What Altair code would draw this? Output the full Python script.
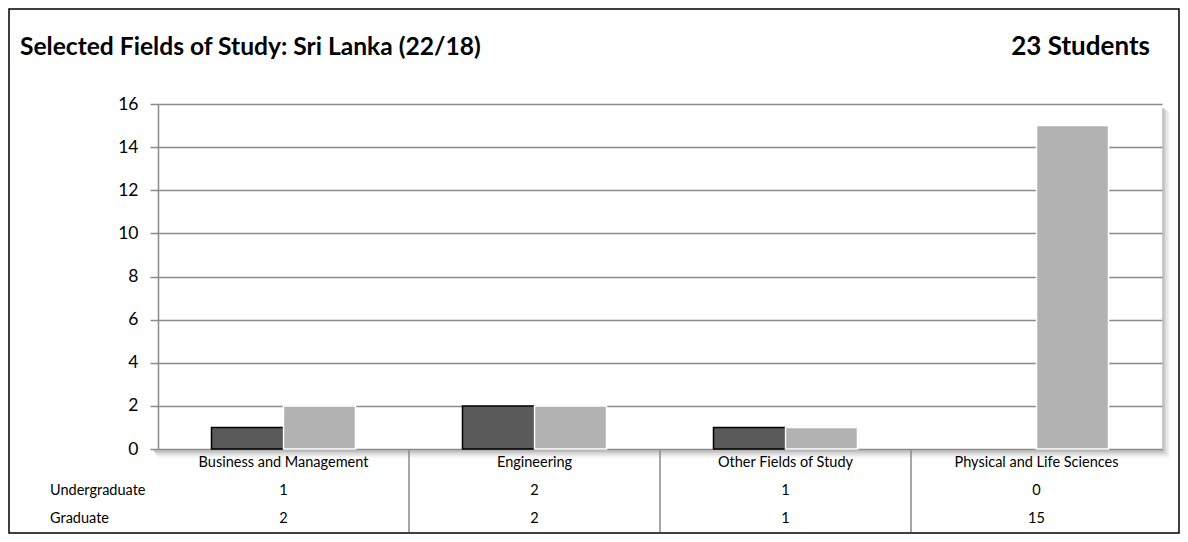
import altair as alt
import pandas as pd

categories = ["Business and Management", "Engineering", "Other Fields of Study", "Physical and Life Sciences"]
series = ["Undergraduate", "Graduate"]
undergraduate = [1, 2, 1, 0]
graduate = [2, 2, 1, 15]
title_text = "Selected Fields of Study: Sri Lanka (22/18)"
total_text = "23 Students"
y_ticks = [0, 2, 4, 6, 8, 10, 12, 14, 16]

FONT = "Lato"
W, H = 1004, 345
PAD = {"left": 150, "top": 96, "right": 18, "bottom": 85}

rows = []
for i, c in enumerate(categories):
    rows.append({"cat": c, "series": "Undergraduate", "value": undergraduate[i]})
    rows.append({"cat": c, "series": "Graduate", "value": graduate[i]})
df = pd.DataFrame(rows)

xscale = alt.Scale(domain=categories, paddingInner=0, paddingOuter=0)
rowscale = alt.Scale(type="point", domain=series, range=[387, 415], padding=0)

# plot-area drop shadow (decoration)
shadow_df = pd.DataFrame({"k": [0]})
shadows = []
for i, op in enumerate([0.4, 0.3, 0.2, 0.12, 0.06]):
    shadows.append(alt.Chart(shadow_df).mark_rule(color="#555555", opacity=op, strokeWidth=1.5).encode(
        x=alt.value(W + 1 + i * 1.5), y=alt.value(4 + i), y2=alt.value(H + 2 + i * 1.5)))
    shadows.append(alt.Chart(shadow_df).mark_rule(color="#555555", opacity=op, strokeWidth=1.5).encode(
        x=alt.value(-4 + i), x2=alt.value(W + 1 + i * 1.5), y=alt.value(H + 2 + i * 1.5)))

bars = alt.Chart(df).transform_filter(alt.datum.value > 0).mark_bar(strokeWidth=1.5).encode(
    x=alt.X("cat:N", sort=categories, scale=xscale, axis=None),
    xOffset=alt.XOffset("series:N", sort=series,
                        scale=alt.Scale(domain=series, paddingInner=0, paddingOuter=0.743)),
    y=alt.Y("value:Q", scale=alt.Scale(domain=[0, 16], nice=False),
            axis=alt.Axis(values=y_ticks, title=None, grid=True, gridColor="#8a8a8a", gridWidth=1.5,
                          domainColor="#8a8a8a", domainWidth=1.5, tickColor="#8a8a8a", tickWidth=1.5,
                          tickSize=8, labelPadding=12, labelFont=FONT, labelFontSize=17.5,
                          labelColor="#000000")),
    color=alt.Color("series:N", scale=alt.Scale(domain=series, range=["#5a5a5a", "#b2b2b2"]), legend=None),
    stroke=alt.Stroke("series:N", scale=alt.Scale(domain=series, range=["#000000", "#ffffff"]), legend=None),
)

cat_df = pd.DataFrame({"cat": categories})
cat_labels = alt.Chart(cat_df).mark_text(font=FONT, fontSize=14.5, baseline="middle", color="#000000").encode(
    x=alt.X("cat:N", sort=categories, scale=xscale, axis=None), y=alt.value(359), text="cat:N")

vals = alt.Chart(df).mark_text(font=FONT, fontSize=14.5, baseline="middle", color="#000000").encode(
    x=alt.X("cat:N", sort=categories, scale=xscale, axis=None),
    y=alt.Y("series:N", sort=series, scale=rowscale, axis=None),
    text="value:Q")

row_labels = alt.Chart(pd.DataFrame({"series": series})).mark_text(
    font=FONT, fontSize=14.5, baseline="middle", align="left", color="#000000").encode(
    x=alt.value(-108),
    y=alt.Y("series:N", sort=series, scale=rowscale, axis=None),
    text="series:N")

seps = alt.Chart(pd.DataFrame({"cat": categories[1:]})).mark_rule(color="#8a8a8a", strokeWidth=1.5).encode(
    x=alt.X("cat:N", sort=categories, scale=xscale, axis=None, bandPosition=0),
    y=alt.value(H), y2=alt.value(428))

txt_df = pd.DataFrame({"t": [title_text], "s": [total_text]})
title = alt.Chart(txt_df).mark_text(font=FONT, fontSize=24.6, fontWeight="bold", align="left",
                                     baseline="alphabetic", color="#000000").encode(
    x=alt.value(-138), y=alt.value(-49), text="t:N")
total = alt.Chart(txt_df).mark_text(font=FONT, fontSize=26, fontWeight="bold", align="right",
                                     baseline="alphabetic", color="#000000").encode(
    x=alt.value(992), y=alt.value(-49), text="s:N")

border = alt.Chart(shadow_df).mark_rect(fill=None, stroke="#000000", strokeWidth=1.5).encode(
    x=alt.value(-PAD["left"] + 1), x2=alt.value(W + PAD["right"] - 1),
    y=alt.value(-PAD["top"] + 1), y2=alt.value(H + PAD["bottom"] - 1))

chart = alt.layer(*shadows, bars, cat_labels, vals, row_labels, seps, title, total, border).resolve_scale(
    y="independent"
).properties(
    width=W, height=H, padding=PAD, autosize=alt.AutoSizeParams(type="none"),
    background="#ffffff",
).configure_view(stroke=None)

chart.save("out.html", embed_options={"renderer": "svg", "actions": False})
